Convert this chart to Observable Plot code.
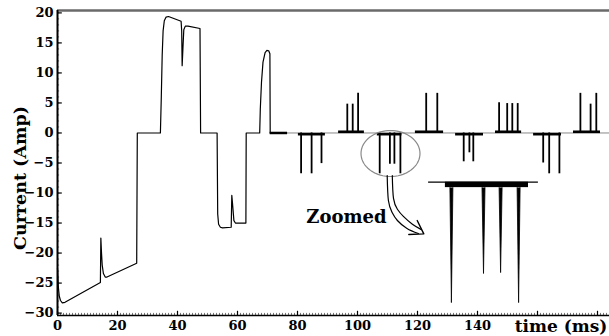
<!DOCTYPE html>
<html><head><meta charset="utf-8">
<script src="https://cdn.jsdelivr.net/npm/d3@7"></script>
<script src="https://cdn.jsdelivr.net/npm/@observablehq/plot@0.6"></script>
<style>html,body{margin:0;padding:0;background:#fff;} svg{display:block}</style>
</head><body><div id="chart"></div>
<script>
// ---- data ----
const mainT = [0, 0.3, 0.6, 1.0, 1.6, 2.5, 14.3, 14.45, 14.65, 14.9, 15.3, 15.9, 16.5, 26.4, 26.6,
  34.3, 34.6, 34.9, 35.2, 35.6, 36.2, 37.0, 41.2, 41.4, 41.55, 41.8, 42.1, 42.6, 43.5, 47.5, 47.7,
  53.2, 53.4, 53.7, 54.3, 55.0, 57.9, 58.1, 58.3, 58.8, 59.3, 62.8, 62.9,
  67.4, 67.6, 68.0, 68.5, 69.2, 69.8, 70.4, 70.8, 70.9];
const mainI = [-22.5, -25.8, -27.2, -27.9, -28.3, -28.2, -24.9, -17.5, -19.8, -22.0, -23.4, -24.0, -24.0, -21.7, 0,
  0, 6, 13, 17, 18.7, 19.3, 19.4, 18.6, 17, 11.2, 14, 17.2, 17.8, 17.8, 17.4, 0,
  0, -13.5, -15.2, -15.7, -15.8, -15.7, -10.4, -11.5, -14.6, -15.0, -15.0, 0,
  0, 4, 8.5, 11.8, 13.4, 13.75, 13.7, 13.2, 0];

const settleRange = [70.9, 76.7];          // thick segment at 0 after last pulse
const zeroRange = [70.9, 184];             // thin zero line

const groupStart = [80.3, 93.7, 106.6, 119.3, 132.7, 146.0, 158.7, 172.0];
const groupEnd   = [89.3, 102.3, 114.8, 128.7, 142.0, 154.7, 168.0, 181.0];
const groupSign  = [-1, 1, -1, 1, -1, 1, -1, 1];

const spikeT = [81.2, 84.7, 88.0, 96.6, 98.4, 100.2, 107.4, 110.8, 112.3, 114.3, 122.9, 126.6,
  135.4, 137.3, 138.6, 147.2, 149.9, 151.6, 153.4, 161.9, 163.9, 167.3, 174.3, 177.7, 179.6];
const spikeI = [-6.8, -6.8, -5.1, 4.8, 4.8, 6.6, -6.8, -5.2, -5.2, -6.8, 6.6, 6.6,
  -4.8, -3.3, -4.8, 5.05, 4.9, 4.9, 4.9, -5.0, -6.8, -6.8, 6.6, 4.8, 6.6];

// zoomed inset
const insetLine = [123.7, 160.3, -8.2];
const insetBar = [129.3, 157.0, -8.2, -9.1];
const insetSpikeT = [131.3, 142.0, 147.7, 153.7];
const insetSpikeI = [-28.25, -23.4, -23.25, -28.25];

// ellipse marking the zoomed region and arrow
const ellipseCenter = [111.0, -3.42];
const ellipseRadius = [9.83, 3.83];
const arrowA_T = [109.9, 110.3, 111.5, 113.3, 116.5, 120.3];
const arrowA_I = [-7.08, -11.25, -13.2, -14.58, -15.9, -16.75];
const arrowB_T = [111.6, 112.0, 113.3, 115.3, 118.3, 121.3];
const arrowB_I = [-7.08, -10.9, -12.7, -13.9, -15.2, -16.1];
const arrowHeadT = [119.9, 122.1, 117.1];
const arrowHeadI = [-14.58, -16.8, -16.9];

const xTicks = [0, 20, 40, 60, 80, 100, 120, 140, 160, 180];
const xLabelled = [0, 20, 40, 60, 80, 100, 120, 140];
const yTicks = [-30, -25, -20, -15, -10, -5, 0, 5, 10, 15, 20];
const xDomain = [0, 184];
const yDomain = [-30.4, 20.4];

// ---- derived tables ----
const main = mainT.map((t, i) => ({t, I: mainI[i]}));
const groups = groupStart.map((s, i) => ({s, e: groupEnd[i], y: groupSign[i] * 0.2}));
const spikes = spikeT.map((t, i) => ({t, I: spikeI[i]}));
const insetTri = insetSpikeT.flatMap((t, i) => [
  {k: i, t: t - 0.5, I: insetBar[3]}, {k: i, t, I: insetSpikeI[i]}, {k: i, t: t + 0.5, I: insetBar[3]}]);
const ellipse = d3.range(0, 361, 5).map(a => ({
  t: ellipseCenter[0] + ellipseRadius[0] * Math.cos(a * Math.PI / 180),
  I: ellipseCenter[1] + ellipseRadius[1] * Math.sin(a * Math.PI / 180)}));
const arrowA = arrowA_T.map((t, i) => ({t, I: arrowA_I[i]}));
const arrowB = arrowB_T.map((t, i) => ({t, I: arrowB_I[i]}));
const arrowHead = arrowHeadT.map((t, i) => ({t, I: arrowHeadI[i]}));
const xMinor = d3.range(0, 185, 1);
const yMinor = d3.range(-30, 20.5, 1);

const chart = Plot.plot({
  width: 609, height: 336,
  marginLeft: 57, marginRight: 0, marginTop: 10, marginBottom: 21,
  style: {fontFamily: "DejaVu Serif", fontWeight: "bold", fontSize: "13px", color: "black", background: "white"},
  x: {domain: xDomain, ticks: xLabelled, tickSize: 0, tickPadding: 5, label: null},
  y: {domain: yDomain, ticks: yTicks, tickSize: 0, tickPadding: 4, label: null},
  marks: [
    // frame
    Plot.ruleY([yDomain[1]], {stroke: "#6a6a6a", strokeWidth: 2.5}),
    Plot.ruleX(xMinor, {y1: yDomain[0], y2: yDomain[0] + 0.35, stroke: "#555", strokeWidth: 0.8}),
    Plot.ruleX(xTicks, {y1: yDomain[0], y2: yDomain[0] + 0.7, stroke: "black", strokeWidth: 1.2}),
    Plot.ruleY(yMinor, {x1: 0, x2: 0.7, stroke: "#555", strokeWidth: 0.8}),
    Plot.ruleY(yTicks, {x1: 0, x2: 1.6, stroke: "black", strokeWidth: 1.2}),
    Plot.ruleY([yDomain[0]], {stroke: "black", strokeWidth: 1.4}),
    Plot.ruleX([0], {stroke: "black", strokeWidth: 2}),
    // zero line and plateaus
    Plot.ruleY([0], {x1: zeroRange[0], x2: zeroRange[1], stroke: "#888", strokeWidth: 1}),
    Plot.ruleY([0], {x1: settleRange[0], x2: settleRange[1], stroke: "black", strokeWidth: 2.5}),
    Plot.ruleY(groups, {x1: "s", x2: "e", y: "y", stroke: "black", strokeWidth: 2.6}),
    Plot.ruleX(spikes, {x: "t", y1: 0, y2: "I", stroke: "black", strokeWidth: 1.8}),
    // main waveform
    Plot.line(main, {x: "t", y: "I", stroke: "black", strokeWidth: 1.2}),
    // ellipse and arrow
    Plot.line(ellipse, {x: "t", y: "I", stroke: "#8a8a8a", strokeWidth: 1.2, curve: "linear"}),
    Plot.line(arrowA, {x: "t", y: "I", stroke: "black", strokeWidth: 1.2, curve: "natural"}),
    Plot.line(arrowB, {x: "t", y: "I", stroke: "black", strokeWidth: 1.2, curve: "natural"}),
    Plot.line(arrowHead, {x: "t", y: "I", stroke: "black", strokeWidth: 1.4}),
    // inset
    Plot.ruleY([insetLine[2]], {x1: insetLine[0], x2: insetLine[1], stroke: "black", strokeWidth: 1.2}),
    Plot.rect([insetBar], {x1: d => d[0], x2: d => d[1], y1: d => d[2], y2: d => d[3], fill: "black"}),
    Plot.line(insetTri, {x: "t", y: "I", z: "k", fill: "black", stroke: "black", strokeWidth: 0.8}),
    Plot.text(["Zoomed"], {x: 96.3, y: -14.1, text: d => d, fontSize: 18, fontWeight: "bold"}),
    // axis titles
    Plot.text(["time (ms)"], {x: 183.3, y: yDomain[0], text: d => d, textAnchor: "end", dy: 11, fontSize: 17, fontWeight: "bold"}),
    Plot.text(["Current (Amp)"], {frameAnchor: "left", text: d => d, rotate: -90, dx: -32, dy: 15,
      lineAnchor: "bottom", textAnchor: "middle", fontSize: 17.5, fontWeight: "bold"})
  ]
});
document.getElementById("chart").appendChild(chart);
</script></body></html>
